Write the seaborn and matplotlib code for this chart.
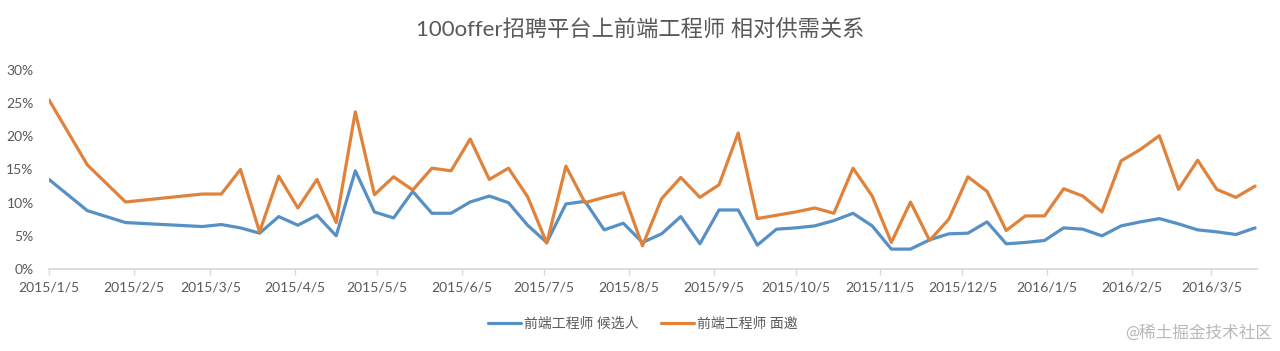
import pandas as pd
import numpy as np
import matplotlib
matplotlib.use("Agg")
import matplotlib.pyplot as plt
import seaborn as sns

# ================== DATA ==================

week_dates = [
    "2015/1/5", "2015/1/19", "2015/2/2", "2015/3/2", "2015/3/9", "2015/3/16",
    "2015/3/23", "2015/3/30", "2015/4/6", "2015/4/13", "2015/4/20", "2015/4/27",
    "2015/5/4", "2015/5/11", "2015/5/18", "2015/5/25", "2015/6/1", "2015/6/8",
    "2015/6/15", "2015/6/22", "2015/6/29", "2015/7/6", "2015/7/13", "2015/7/20",
    "2015/7/27", "2015/8/3", "2015/8/10", "2015/8/17", "2015/8/24", "2015/8/31",
    "2015/9/7", "2015/9/14", "2015/9/21", "2015/9/28", "2015/10/5", "2015/10/12",
    "2015/10/19", "2015/10/26", "2015/11/2", "2015/11/9", "2015/11/16", "2015/11/23",
    "2015/11/30", "2015/12/7", "2015/12/14", "2015/12/21", "2015/12/28", "2016/1/4",
    "2016/1/11", "2016/1/18", "2016/1/25", "2016/2/1", "2016/2/8", "2016/2/15",
    "2016/2/22", "2016/2/29", "2016/3/7", "2016/3/14", "2016/3/21",
]

candidates = [
    13.5, 8.8, 7.0, 6.4, 6.7, 6.2, 5.4, 7.9, 6.6, 8.1, 5.0, 14.8,
    8.6, 7.7, 11.7, 8.4, 8.4, 10.1, 11.0, 10.0, 6.6, 4.0, 9.8, 10.2,
    5.9, 6.9, 4.0, 5.3, 7.9, 3.8, 8.9, 8.9, 3.6, 6.0, 6.2, 6.5,
    7.3, 8.4, 6.5, 3.0, 3.0, 4.4, 5.3, 5.4, 7.1, 3.8, 4.0, 4.3,
    6.2, 6.0, 5.0, 6.5, 7.1, 7.6, 6.8, 5.9, 5.6, 5.2, 6.2,
]

interviews = [
    25.5, 15.7, 10.1, 11.3, 11.3, 15.0, 5.6, 14.0, 9.2, 13.5, 7.0, 23.7,
    11.2, 13.9, 11.9, 15.2, 14.8, 19.6, 13.5, 15.2, 10.9, 3.9, 15.5, 10.0,
    10.8, 11.5, 3.5, 10.6, 13.8, 10.8, 12.7, 20.5, 7.6, 8.1, 8.6, 9.2,
    8.4, 15.2, 11.0, 4.0, 10.1, 4.3, 7.5, 13.9, 11.7, 5.8, 8.0, 8.0,
    12.1, 11.0, 8.6, 16.3, 18.0, 20.1, 12.0, 16.4, 12.0, 10.8, 12.5,
]

series_names = ["前端工程师 候选人", "前端工程师 面邀"]
series_colors = ["#5690c4", "#e0823a"]

tick_dates = [
    "2015/1/5", "2015/2/5", "2015/3/5", "2015/4/5", "2015/5/5", "2015/6/5",
    "2015/7/5", "2015/8/5", "2015/9/5", "2015/10/5", "2015/11/5", "2015/12/5",
    "2016/1/5", "2016/2/5", "2016/3/5",
]
y_ticks = [0, 5, 10, 15, 20, 25, 30]

title = "100offer招聘平台上前端工程师 相对供需关系"
watermark = "@稀土掘金技术社区"

# ================== PLOT ==================

dates = pd.to_datetime(week_dates, format="%Y/%m/%d")
df = pd.concat([
    pd.DataFrame({"date": dates, "value": candidates, "series": series_names[0]}),
    pd.DataFrame({"date": dates, "value": interviews, "series": series_names[1]}),
])

sns.set_theme(style="white")
plt.rcParams["font.family"] = ["Lato", "Noto Sans CJK SC", "DejaVu Sans"]

gray = "#595959"

fig = plt.figure(figsize=(12.8, 3.51), dpi=100)
ax = fig.add_axes([49 / 1280, 1 - 269 / 351, 1208 / 1280, 199 / 351])

sns.lineplot(
    data=df, x="date", y="value", hue="series",
    palette=dict(zip(series_names, series_colors)),
    linewidth=2.3, ax=ax, legend=False,
)

ax.set_ylim(0, 30)
ax.set_xlim(dates[0], dates[-1] + pd.Timedelta(days=0.7))
ax.set_yticks(y_ticks)
ax.set_yticklabels([f"{v}%" for v in y_ticks])
tick_pos = pd.to_datetime(tick_dates, format="%Y/%m/%d")
ax.set_xticks(tick_pos)
ax.set_xticklabels(tick_dates)
ax.set_xlabel("")
ax.set_ylabel("")

for side in ["top", "right", "left"]:
    ax.spines[side].set_visible(False)
ax.spines["bottom"].set_color("#d9d9d9")
ax.spines["bottom"].set_linewidth(1.3)

ax.tick_params(axis="x", colors=gray, labelsize=10, length=4, width=1,
               direction="out", pad=5, bottom=True)
ax.tick_params(axis="x", color="#d9d9d9")
ax.tick_params(axis="y", colors=gray, labelsize=10, length=0, pad=11)
for lab in ax.get_xticklabels() + ax.get_yticklabels():
    lab.set_color(gray)

fig.text(0.5, 1 - 30 / 351, title, ha="center", va="center",
         fontsize=16, color=gray)

handles = [plt.Line2D([], [], color=c, linewidth=2.3) for c in series_colors]
fig.legend(handles, series_names, loc="center", bbox_to_anchor=(0.502, 1 - 323 / 351),
           ncol=2, frameon=False, fontsize=10, handlelength=2.4,
           handletextpad=0.2, columnspacing=1.6, labelcolor=gray)

fig.text(1272 / 1280, 1 - 333 / 351, watermark, ha="right", va="center",
         fontsize=12, color="#b8b8b8")

plt.savefig("out.png", dpi=100)
